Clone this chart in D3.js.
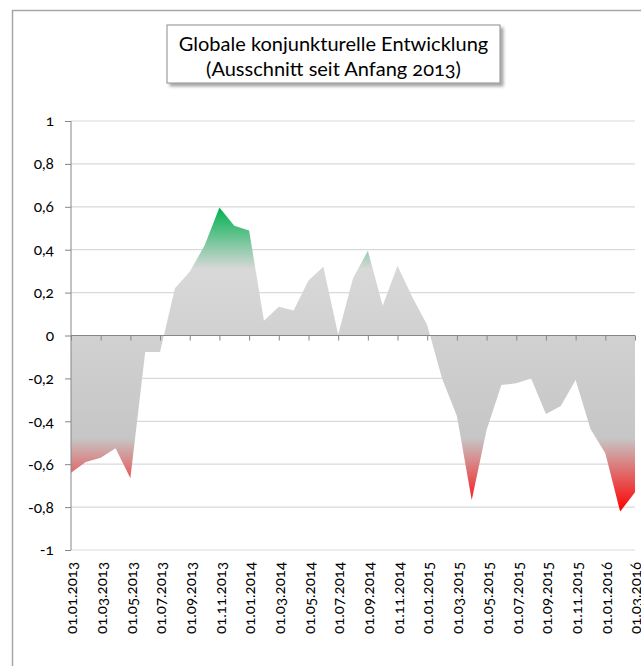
<!DOCTYPE html>
<html><head><meta charset="utf-8">
<script src="https://cdn.jsdelivr.net/npm/d3@7"></script>
<style>
html,body{margin:0;padding:0;background:#fff;}
text{font-family:Lato,"Open Sans",sans-serif;font-variant-numeric:oldstyle-nums;}
</style></head>
<body><svg id="c" width="641" height="666"></svg>
<script>
const titleLines = ["Globale konjunkturelle Entwicklung", "(Ausschnitt seit Anfang 2013)"];
const months = [
 "01.01.2013","01.02.2013","01.03.2013","01.04.2013","01.05.2013","01.06.2013",
 "01.07.2013","01.08.2013","01.09.2013","01.10.2013","01.11.2013","01.12.2013",
 "01.01.2014","01.02.2014","01.03.2014","01.04.2014","01.05.2014","01.06.2014",
 "01.07.2014","01.08.2014","01.09.2014","01.10.2014","01.11.2014","01.12.2014",
 "01.01.2015","01.02.2015","01.03.2015","01.04.2015","01.05.2015","01.06.2015",
 "01.07.2015","01.08.2015","01.09.2015","01.10.2015","01.11.2015","01.12.2015",
 "01.01.2016","01.02.2016","01.03.2016"];
const values = [
 -0.64,-0.59,-0.57,-0.526,-0.666,-0.077,
 -0.077,0.22,0.297,0.42,0.597,0.512,
 0.49,0.069,0.134,0.116,0.256,0.321,
 0.005,0.267,0.395,0.139,0.325,0.178,
 0.049,-0.2,-0.375,-0.767,-0.44,-0.231,
 -0.223,-0.2,-0.366,-0.329,-0.207,-0.436,
 -0.549,-0.821,-0.731];
const tickLabels = months.filter((d,i)=>i%2===0);
const yTicks = [-1,-0.8,-0.6,-0.4,-0.2,0,0.2,0.4,0.6,0.8,1];

const svg = d3.select("#c");
const defs = svg.append("defs");

const x = d3.scalePoint().domain(months).range([71,635]);
const y = d3.scaleLinear().domain([-1,1]).range([550,121]);
const fmt = d => String(d).replace(".", ",");

// outer frame
svg.append("rect").attr("x",12.5).attr("y",10.5).attr("width",660).attr("height",700)
  .attr("fill","#fff").attr("stroke","#a6a6a6").attr("stroke-width",1.5);

// gridlines
svg.append("g").selectAll("line").data(yTicks.filter(d=>d!==0)).join("line")
  .attr("x1",71).attr("x2",635).attr("y1",d=>y(d)).attr("y2",d=>y(d))
  .attr("stroke","#d9d9d9").attr("stroke-width",1.2);

// gradient
const vmax = d3.max(values), vmin = d3.min(values);
const grad = defs.append("linearGradient").attr("id","g")
  .attr("gradientUnits","userSpaceOnUse")
  .attr("x1",0).attr("x2",0).attr("y1",y(vmax)).attr("y2",y(vmin));
const off = v => (y(v)-y(vmax))/(y(vmin)-y(vmax));
[[vmax,"#00b050"],[0.31,"#d8d8d8"],[-0.48,"#c6c6c6"],[vmin,"#ff0000"]]
  .forEach(([v,c])=>grad.append("stop").attr("offset",off(v)).attr("stop-color",c));

// area
const area = d3.area().x((d,i)=>x(months[i])).y0(y(0)).y1(d=>y(d));
svg.append("path").datum(values).attr("d",area).attr("fill","url(#g)");

// y axis
const yAxis = d3.axisLeft(y).tickValues(yTicks).tickFormat(fmt).tickSize(6).tickPadding(11);
const gy = svg.append("g").attr("transform","translate(71,0)").call(yAxis);
gy.selectAll("path,line").attr("stroke","#868686");
gy.select(".domain").attr("d","M0,121V550");
gy.selectAll("text").attr("font-size",15.5).attr("fill","#000")
  .style("font-family","Lato,'Open Sans',sans-serif");

// x axis at zero
const xAxis = d3.axisBottom(x).tickValues(tickLabels).tickSize(5).tickFormat("");
const gx = svg.append("g").attr("transform",`translate(0,${y(0)})`).call(xAxis);
gx.selectAll("path,line").attr("stroke","#868686");
gx.select(".domain").attr("d","M71,0H635");

// x labels at bottom
svg.append("g").selectAll("text").data(tickLabels).join("text")
  .attr("transform",d=>`translate(${x(d)+1},562) rotate(-90)`)
  .attr("text-anchor","end").attr("dy","0.35em")
  .attr("font-size",15).attr("fill","#000").text(d=>d);

// title box
const f = defs.append("filter").attr("id","sh").attr("x","-10%").attr("y","-10%").attr("width","130%").attr("height","140%");
f.append("feDropShadow").attr("dx",3).attr("dy",3).attr("stdDeviation",1.5).attr("flood-color","#000").attr("flood-opacity",0.35);
svg.append("rect").attr("x",167).attr("y",25).attr("width",333).attr("height",58)
  .attr("fill","#fff").attr("stroke","#8c8c8c").attr("stroke-width",1).attr("filter","url(#sh)");
svg.append("g").selectAll("text").data(titleLines).join("text")
  .attr("x",333.5).attr("y",(d,i)=>51+i*25).attr("text-anchor","middle")
  .attr("font-size",20).attr("fill","#000").text(d=>d);
</script></body></html>
